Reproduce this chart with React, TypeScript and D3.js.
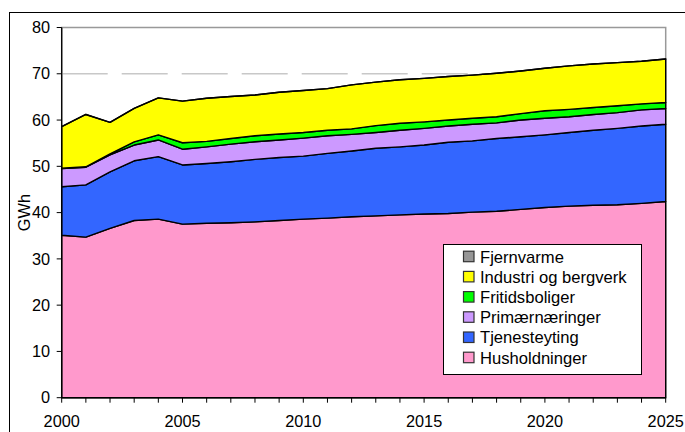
import React from "react";
import * as d3 from "d3";

const years = d3.range(2000, 2026);
const seriesNames = ["Husholdninger", "Tjenesteyting", "Primærnæringer", "Fritidsboliger", "Industri og bergverk", "Fjernvarme"];
const colors = ["#FF99CC", "#3366FF", "#CC99FF", "#00FF00", "#FFFF00", "#969696"];

const husholdninger = [35.1, 34.7, 36.6, 38.3, 38.6, 37.5, 37.7, 37.8, 38.0, 38.3, 38.6, 38.8, 39.1, 39.3, 39.5, 39.7, 39.8, 40.1, 40.3, 40.7, 41.1, 41.4, 41.6, 41.7, 42.0, 42.4];
const tjenesteyting = [10.5, 11.3, 12.2, 12.9, 13.5, 12.8, 12.9, 13.2, 13.5, 13.6, 13.6, 14.0, 14.2, 14.6, 14.7, 14.9, 15.4, 15.4, 15.7, 15.7, 15.7, 15.9, 16.2, 16.5, 16.7, 16.7];
const primaer = [3.9, 3.8, 3.7, 3.4, 3.6, 3.4, 3.6, 3.8, 3.8, 3.8, 3.9, 3.8, 3.6, 3.4, 3.6, 3.6, 3.5, 3.6, 3.4, 3.6, 3.6, 3.4, 3.4, 3.4, 3.5, 3.4];
const fritidsboliger = [0.1, 0.1, 0.2, 0.7, 1.1, 1.4, 1.2, 1.2, 1.3, 1.3, 1.2, 1.2, 1.2, 1.5, 1.5, 1.4, 1.3, 1.3, 1.3, 1.4, 1.6, 1.6, 1.5, 1.5, 1.3, 1.3];
const industri = [9.0, 11.3, 6.8, 7.2, 8.0, 9.0, 9.3, 9.1, 8.8, 9.0, 9.1, 9.0, 9.5, 9.4, 9.4, 9.4, 9.4, 9.3, 9.4, 9.2, 9.2, 9.4, 9.4, 9.3, 9.2, 9.4];
const fjernvarme = [0, 0, 0, 0, 0, 0, 0, 0, 0, 0, 0, 0, 0, 0, 0, 0, 0, 0, 0, 0, 0, 0, 0, 0, 0, 0];

const yTicks = [0, 10, 20, 30, 40, 50, 60, 70, 80];
const xTickLabels = [2000, 2005, 2010, 2015, 2020, 2025];
const legendOrder = ["Fjernvarme", "Industri og bergverk", "Fritidsboliger", "Primærnæringer", "Tjenesteyting", "Husholdninger"];

const FONT = "Liberation Sans, Arial, sans-serif";

export default function App() {
  const W = 685, H = 432;
  const left = 61.7, right = 665.7, top = 27.5, bottom = 397.7;
  const x = d3.scaleLinear().domain([2000, 2025]).range([left, right]);
  const y = d3.scaleLinear().domain([0, 80]).range([bottom, top]);

  const seriesArrays = [husholdninger, tjenesteyting, primaer, fritidsboliger, industri, fjernvarme];
  const rows = years.map((yr, i) => {
    const r: any = { year: yr };
    seriesNames.forEach((n, k) => (r[n] = seriesArrays[k][i]));
    return r;
  });
  const stacked = d3.stack().keys(seriesNames)(rows);
  const area = d3
    .area<any>()
    .x((d) => x(d.data.year))
    .y0((d) => y(d[0]))
    .y1((d) => y(d[1]));

  const legX = 443, legY = 244, legW = 198, legH = 130;

  return (
    <svg width={W} height={H} style={{ position: "fixed", left: 0, top: 0, background: "#fff" }} fontFamily={FONT}>
      <rect x={0} y={0} width={W} height={H} fill="#fff" />
      {/* outer chart border */}
      <rect x={9.5} y={12.5} width={W + 20} height={H + 20} fill="none" stroke="#000" strokeWidth={1} />
      {/* plot border (top/right) */}
      <rect x={left} y={top} width={right - left} height={bottom - top} fill="none" stroke="#999" strokeWidth={1.5} />
      {/* gridline at 70 */}
      {yTicks
        .filter((t) => t === 70)
        .map((t) => (
          <line key={t} x1={left} x2={right} y1={y(t)} y2={y(t)} stroke="#c8c8c8" strokeWidth={1.5} strokeDasharray="46,14" />
        ))}
      {/* areas */}
      {stacked.map((s, k) => (
        <path key={k} d={area(s as any) || ""} fill={colors[k]} stroke="#000" strokeWidth={1.4} strokeLinejoin="round" />
      ))}
      {/* axes */}
      <line x1={left} x2={left} y1={top} y2={bottom} stroke="#000" strokeWidth={1.3} />
      <line x1={left} x2={right} y1={bottom} y2={bottom} stroke="#000" strokeWidth={1.3} />
      {yTicks.map((t) => (
        <g key={t}>
          <line x1={left - 5} x2={left} y1={y(t)} y2={y(t)} stroke="#000" strokeWidth={1} />
          <text x={50} y={y(t)} dy="0.35em" textAnchor="end" fontSize={16.3} fill="#000">
            {t}
          </text>
        </g>
      ))}
      {years.map((yr) => (
        <line key={yr} x1={x(yr)} x2={x(yr)} y1={bottom} y2={bottom + 5} stroke="#000" strokeWidth={1} />
      ))}
      {xTickLabels.map((yr) => (
        <text key={yr} x={x(yr)} y={427} textAnchor="middle" fontSize={16.3} fill="#000">
          {yr}
        </text>
      ))}
      <text transform={`translate(30,${(top + bottom) / 2}) rotate(-90)`} textAnchor="middle" fontSize={16.3} fill="#000">
        GWh
      </text>
      {/* legend */}
      <rect x={legX + 0.5} y={legY + 0.5} width={legW} height={legH} fill="#fff" stroke="#000" strokeWidth={1} />
      {legendOrder.map((n, i) => {
        const k = seriesNames.indexOf(n);
        const cy = 256.7 + i * 20.2;
        return (
          <g key={n}>
            <rect x={463.5} y={cy - 5.5} width={10.5} height={10.5} fill={colors[k]} stroke="#333" strokeWidth={1.2} />
            <text x={480} y={cy} dy="0.36em" fontSize={16.6} fill="#000">
              {n}
            </text>
          </g>
        );
      })}
    </svg>
  );
}
